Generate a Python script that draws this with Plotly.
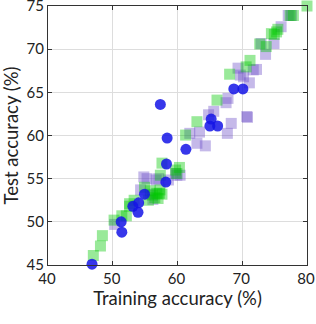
import plotly.graph_objects as go

# Blue circles
blue_x = [46.8, 51.3, 51.4, 53.1, 54.0, 53.9, 54.9, 58.2, 58.3, 58.4, 57.35, 61.3, 65.0, 65.2, 66.2, 68.7, 70.1]
blue_y = [45.1, 50.0, 48.8, 51.8, 52.2, 51.1, 53.2, 54.6, 56.7, 59.7, 63.6, 58.4, 61.1, 61.9, 61.1, 65.4, 65.4]

# Green squares
green_x = [47.0, 48.1, 48.4, 50.2, 51.4, 52.1, 52.6, 52.6, 53.3, 54.9, 55.5, 56.1, 56.8, 57.0, 57.3, 57.2,
           56.5, 57.6, 55.8, 57.35, 57.6, 59.7, 59.9, 60.3, 61.25, 63.0, 66.1, 68.05, 70.6, 71.2,
           72.7, 73.7, 74.5, 74.95, 75.3, 75.5, 77.4, 77.9, 80.0]
green_y = [46.1, 47.2, 48.4, 50.2, 50.7, 50.7, 52.1, 51.8, 52.5, 54.0, 52.5, 53.1, 53.3, 52.7, 53.7, 53.3,
           52.8, 53.2, 53.6, 55.4, 56.8, 56.0, 55.6, 56.3, 60.05, 61.6, 64.1, 67.1, 67.95, 68.7,
           70.6, 70.3, 71.8, 71.7, 72.0, 72.3, 73.9, 73.9, 75.0]

# Purple squares
purple_x = [50.3, 54.3, 54.8, 55.3, 56.7, 57.1, 58.6, 59.7, 60.4, 59.9, 61.9, 63.0, 63.4, 64.3, 64.8,
            65.6, 67.7, 68.3, 67.5, 67.8, 69.7, 69.35, 70.2, 71.1, 70.7, 70.8, 71.7, 72.2, 72.9, 73.6,
            74.9, 76.0, 77.1, 77.6, 55.8, 56.2]
purple_y = [49.7, 53.7, 55.2, 55.0, 54.85, 55.0, 54.85, 55.6, 55.4, 55.4, 60.25, 59.1, 60.4, 58.8, 62.4,
            62.8, 60.25, 61.4, 63.8, 64.3, 67.0, 67.8, 66.8, 66.1, 62.2, 62.1, 67.6, 67.65, 70.65, 69.4,
            70.65, 72.6, 73.9, 73.9, 53.2, 52.6]

x_ticks = [40, 50, 60, 70, 80]
y_ticks = [45, 50, 55, 60, 65, 70, 75]

fig = go.Figure()
fig.add_trace(go.Scatter(x=purple_x, y=purple_y, mode="markers", cliponaxis=False,
                         marker=dict(symbol="square", size=11, color="rgba(110,80,200,0.4)", line=dict(width=0))))
fig.add_trace(go.Scatter(x=green_x, y=green_y, mode="markers", cliponaxis=False,
                         marker=dict(symbol="square", size=11, color="rgba(0,200,0,0.4)", line=dict(width=0))))
fig.add_trace(go.Scatter(x=blue_x, y=blue_y, mode="markers", cliponaxis=False,
                         marker=dict(symbol="circle", size=11, color="rgba(20,20,230,0.85)", line=dict(width=0))))

axis_common = dict(showgrid=True, gridcolor="#dddddd", gridwidth=1, zeroline=False,
                   showline=True, linecolor="#333333", linewidth=1, mirror="ticks",
                   ticks="inside", ticklen=4, tickcolor="#333333", ticklabeloverflow="allow",
                   automargin=False, tickfont=dict(size=15, color="#222222"))

fig.update_layout(
    template="none",
    width=316, height=324,
    margin=dict(l=48, r=9, t=6, b=59, autoexpand=False),
    paper_bgcolor="white", plot_bgcolor="white",
    showlegend=False,
    font=dict(family="Lato", color="#222222"),
    xaxis=dict(range=[40, 80], tickvals=x_ticks, ticklabelshift=-1,
               title=dict(text="Training accuracy (%)", font=dict(size=18.5), standoff=6), **axis_common),
    yaxis=dict(range=[45, 75], tickvals=y_ticks,
               title=dict(text="Test accuracy (%)", font=dict(size=18.5), standoff=8), **axis_common),
)

fig.write_html("out.html", config={"displayModeBar": False},
               post_script="document.body.style.margin='0';document.body.style.overflow='hidden';")
